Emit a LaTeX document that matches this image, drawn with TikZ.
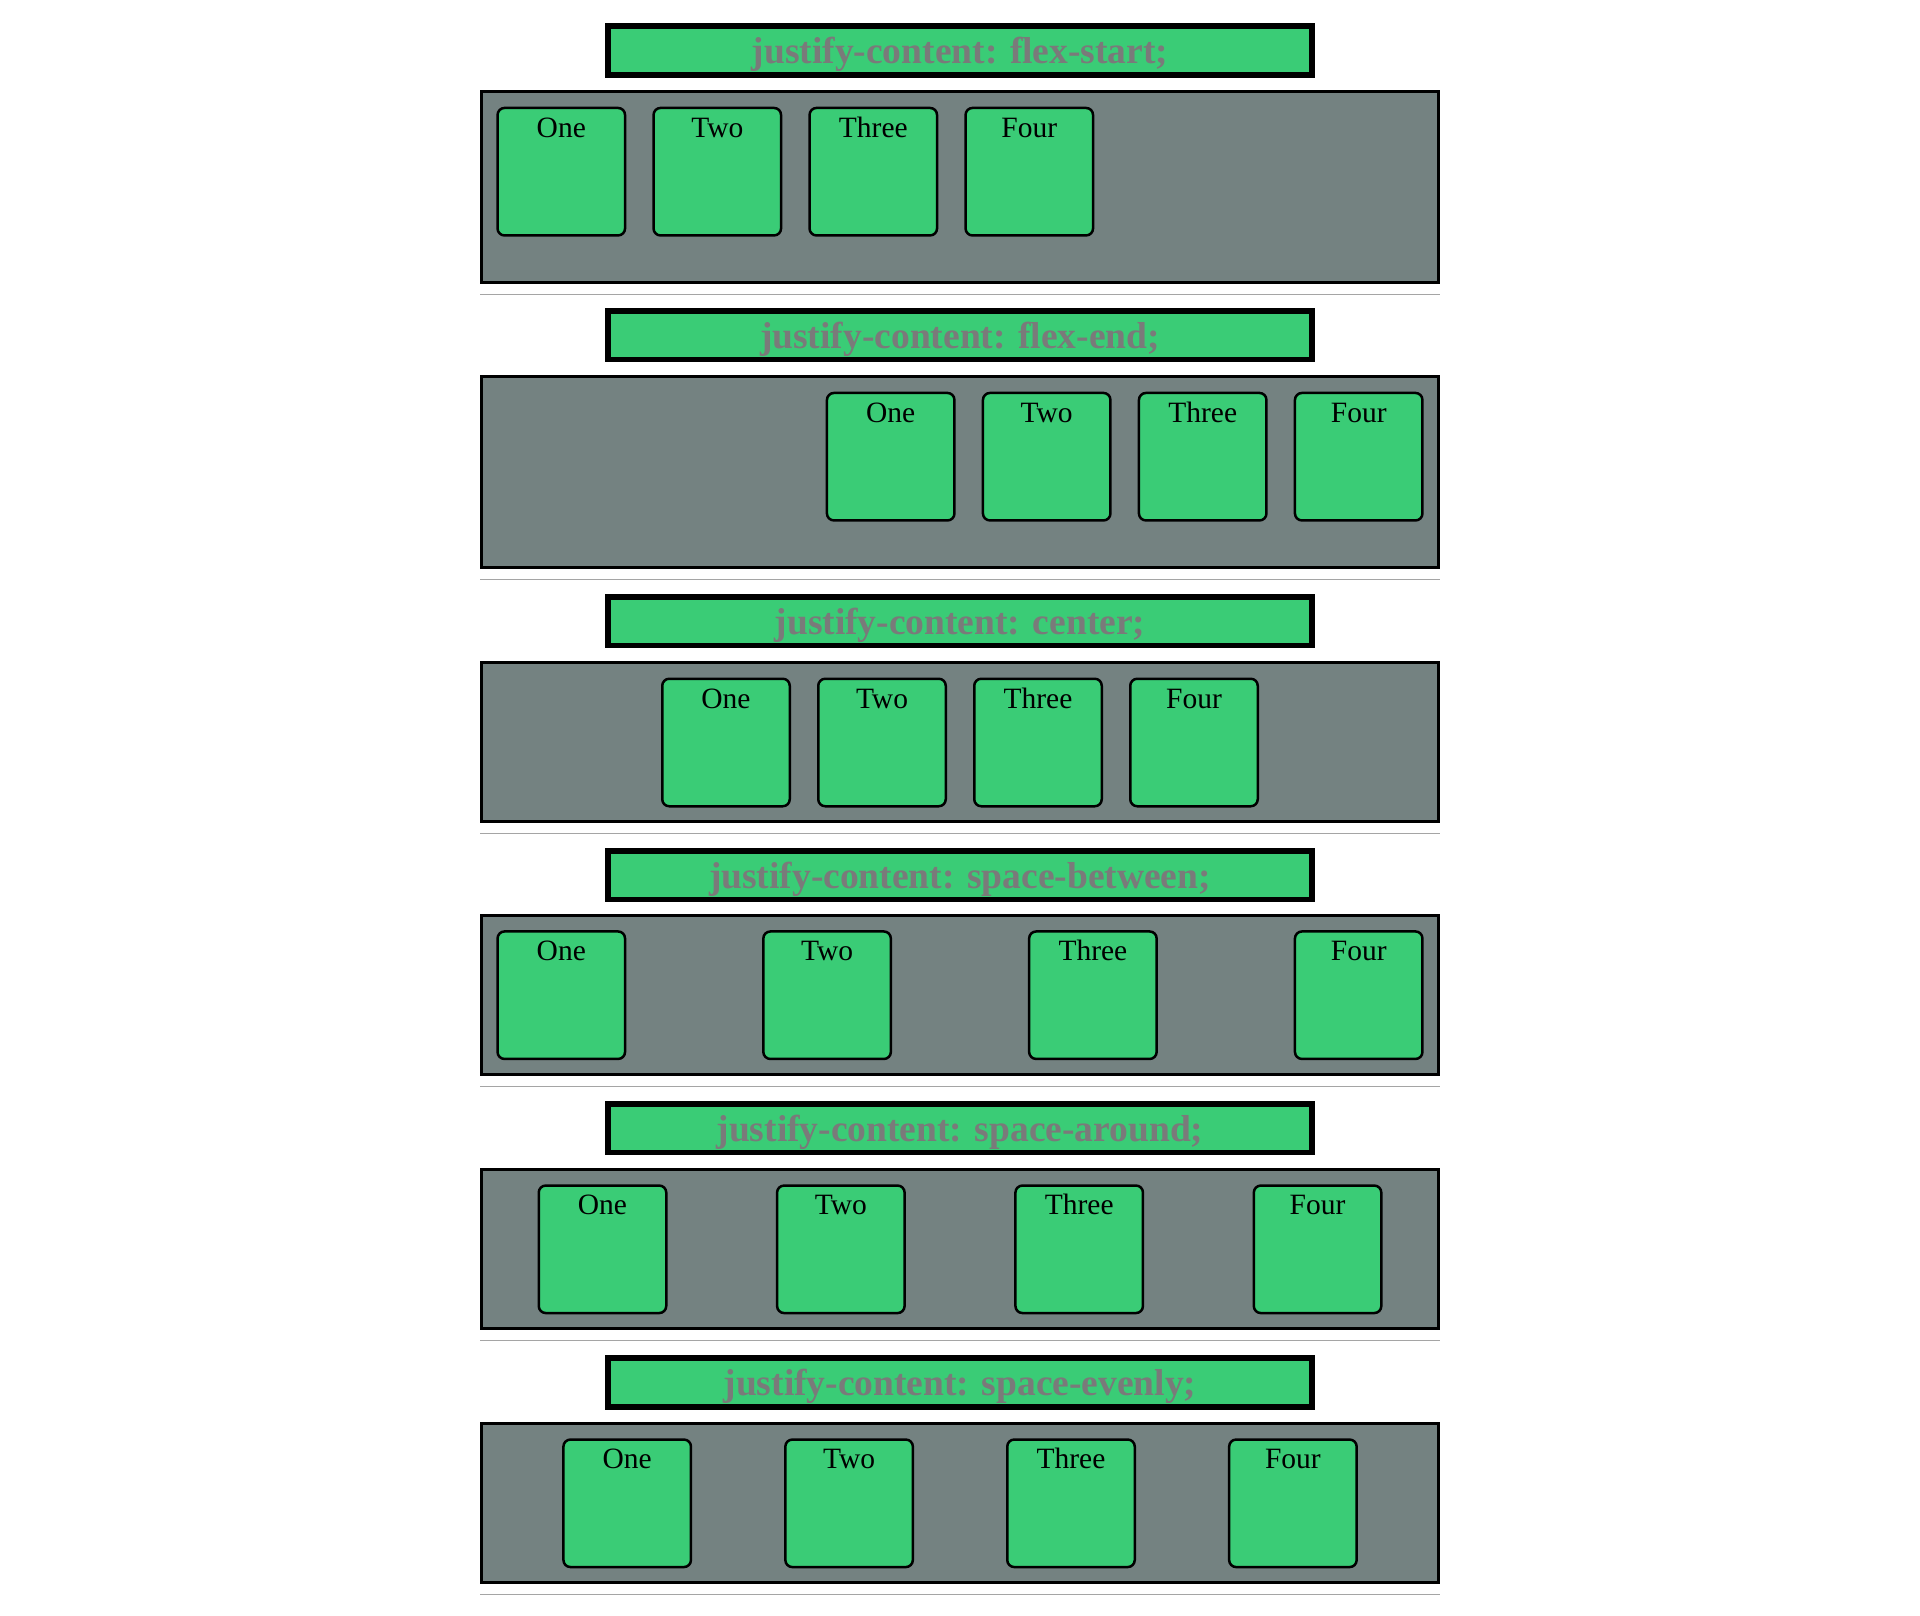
\documentclass[tikz,border=0pt]{standalone}
\usepackage{fontspec}
\setmainfont{Liberation Serif}
\usetikzlibrary{positioning}

\definecolor{flexgreen}{RGB}{58,204,118}
\definecolor{boxgray}{RGB}{116,130,129}
\definecolor{titlegray}{RGB}{122,122,122}
\definecolor{rulegray}{RGB}{165,165,165}

\begin{document}
\begin{tikzpicture}[x=1pt, y=-1pt,
        heading/.style={draw=black, line width=5.5pt, fill=flexgreen, inner sep=0pt,
            minimum width=703.9pt, minimum height=48.9pt, text=titlegray,
            text height=33.6pt, text depth=8pt, font=\bfseries\fontsize{37.5}{37.5}\selectfont},
        flexbox/.style={draw=black, line width=3pt, fill=boxgray, inner sep=0pt,
            minimum width=956.4pt},
        tallbox/.style={flexbox, minimum height=190.7pt},
        shortbox/.style={flexbox, minimum height=158.4pt},
        item/.style={draw=black, line width=2.5pt, fill=flexgreen, rounded corners=7pt,
            inner sep=0pt, minimum width=127.5pt, minimum height=127.5pt,
            text height=20pt, text depth=89pt, font=\fontsize{29.5}{29.5}\selectfont},
        rule/.style={draw=rulegray, line width=1.5pt}]
    \path[fill=white, use as bounding box] (0,0) rectangle (1920,1616);

    % flex-start
    \node[heading] (title1) at (960,50.5) {justify-content: flex-start;};
    \node[tallbox] (box1) at (960,186.85) {};
    \node[item] (one1) at (561.3,171.7) {One};
    \node[item, right=26pt of one1] (two1) {Two};
    \node[item, right=26pt of two1] (three1) {Three};
    \node[item, right=26pt of three1] (four1) {Four};
    \draw[rule] ([yshift=-11pt]box1.south west) -- ([yshift=-11pt]box1.south east);

    % flex-end
    \node[heading] (title2) at (960,335.2) {justify-content: flex-end;};
    \node[tallbox] (box2) at (960,471.85) {};
    \node[item] (one2) at (890.7,456.7) {One};
    \node[item, right=26pt of one2] (two2) {Two};
    \node[item, right=26pt of two2] (three2) {Three};
    \node[item, right=26pt of three2] (four2) {Four};
    \draw[rule] ([yshift=-11pt]box2.south west) -- ([yshift=-11pt]box2.south east);

    % center
    \node[heading] (title3) at (960,621.2) {justify-content: center;};
    \node[shortbox] (box3) at (960,742) {};
    \node[item] (one3) at (726,742.5) {One};
    \node[item, right=26pt of one3] (two3) {Two};
    \node[item, right=26pt of two3] (three3) {Three};
    \node[item, right=26pt of three3] (four3) {Four};
    \draw[rule] ([yshift=-11pt]box3.south west) -- ([yshift=-11pt]box3.south east);

    % space-between
    \node[heading] (title4) at (960,875.2) {justify-content: space-between;};
    \node[shortbox] (box4) at (960,995) {};
    \node[item] (one4) at (561.3,995.2) {One};
    \node[item, right=135.8pt of one4] (two4) {Two};
    \node[item, right=135.8pt of two4] (three4) {Three};
    \node[item, right=135.8pt of three4] (four4) {Four};
    \draw[rule] ([yshift=-11pt]box4.south west) -- ([yshift=-11pt]box4.south east);

    % space-around
    \node[heading] (title5) at (960,1128.2) {justify-content: space-around;};
    \node[shortbox] (box5) at (960,1249) {};
    \node[item] (one5) at (602.5,1249.3) {One};
    \node[item, right=108.35pt of one5] (two5) {Two};
    \node[item, right=108.35pt of two5] (three5) {Three};
    \node[item, right=108.35pt of three5] (four5) {Four};
    \draw[rule] ([yshift=-11pt]box5.south west) -- ([yshift=-11pt]box5.south east);

    % space-evenly
    \node[heading] (title6) at (960,1382.5) {justify-content: space-evenly;};
    \node[shortbox] (box6) at (960,1503) {};
    \node[item] (one6) at (627.2,1503.3) {One};
    \node[item, right=91.9pt of one6] (two6) {Two};
    \node[item, right=91.9pt of two6] (three6) {Three};
    \node[item, right=91.9pt of three6] (four6) {Four};
    \draw[rule] ([yshift=-11pt]box6.south west) -- ([yshift=-11pt]box6.south east);
\end{tikzpicture}
\end{document}
